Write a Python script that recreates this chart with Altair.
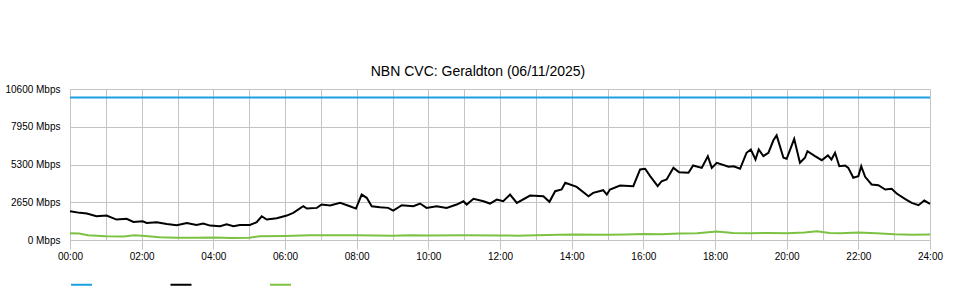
import altair as alt
import pandas as pd

# ---- data ----
series_names = ["Capacity", "Traffic", "Upload"]
series_colors = ["#1ba1e2", "#000000", "#7cc242"]

capacity_hours = [0, 24]
capacity_mbps = [10000, 10000]

traffic_hours = [0.00, 0.28, 0.47, 0.74, 1.02, 1.30, 1.58, 1.77, 2.03, 2.14, 2.42, 2.70, 2.98,
                 3.26, 3.53, 3.72, 3.91, 4.19, 4.37, 4.56, 4.74, 5.02, 5.21, 5.35, 5.49, 5.77,
                 6.05, 6.23, 6.51, 6.61, 6.89, 7.02, 7.26, 7.54, 7.81, 7.98, 8.14, 8.28, 8.42,
                 8.65, 8.88, 9.02, 9.26, 9.58, 9.77, 9.95, 10.23, 10.51, 10.79, 10.98, 11.07,
                 11.26, 11.54, 11.72, 11.91, 12.09, 12.28, 12.47, 12.84, 13.21, 13.38, 13.54,
                 13.72, 13.82, 14.14, 14.47, 14.60, 14.88, 14.98, 15.07, 15.35, 15.72, 15.91,
                 16.05, 16.19, 16.40, 16.51, 16.65, 16.84, 17.00, 17.26, 17.39, 17.63, 17.80,
                 17.91, 18.05, 18.38, 18.52, 18.70, 18.88, 19.00, 19.13, 19.22, 19.35, 19.49,
                 19.63, 19.72, 19.91, 20.00, 20.21, 20.37, 20.51, 20.58, 20.79, 20.98, 21.15,
                 21.25, 21.35, 21.47, 21.63, 21.72, 21.86, 22.00, 22.08, 22.19, 22.37, 22.56,
                 22.75, 22.93, 23.07, 23.30, 23.49, 23.68, 23.84, 24.00]
traffic_mbps = [2020, 1905, 1855, 1665, 1715, 1435, 1485, 1270, 1315, 1200, 1245, 1130, 1035,
                1200, 1060, 1150, 1010, 965, 1105, 965, 1060, 1060, 1245, 1665, 1435, 1525,
                1715, 1905, 2370, 2205, 2255, 2490, 2420, 2605, 2370, 2205, 3190, 2960, 2370,
                2300, 2255, 2065, 2440, 2370, 2560, 2255, 2370, 2255, 2490, 2720, 2490,
                2890, 2720, 2560, 2840, 2720, 3190, 2605, 3120, 3070, 2680, 3425,
                3545, 4015, 3730, 3070, 3310, 3495, 3190, 3545, 3825, 3775, 4950,
                5000, 4480, 3775, 4125, 4245, 5065, 4760, 4715, 5230, 5065, 5885,
                5065, 5420, 5140, 5180, 5000, 6120, 6355, 5650, 6355, 5885, 6120,
                7000, 7340, 5770, 5700, 7105, 5420, 5770, 6235, 5885, 5600, 5935,
                5650, 6120, 5180, 5230, 5065, 4365, 4480, 5180, 4435, 3895, 3845,
                3545, 3590, 3260, 2890, 2605, 2440, 2770, 2540]

upload_hours = [0, 0.25, 0.5, 1.0, 1.5, 1.8, 2.1, 2.5, 3.0, 3.5, 4.0, 4.5, 5.0, 5.3, 6.0, 6.7,
                7.0, 8.0, 8.5, 9.0, 9.5, 10.0, 11.0, 12.0, 12.5, 13.0, 14.0, 15.0, 15.5, 16.0,
                16.5, 17.0, 17.5, 18.05, 18.5, 19.0, 19.5, 20.0, 20.5, 20.84, 21.2, 21.5, 22.0,
                22.5, 23.0, 23.5, 24.0]
upload_mbps = [480, 450, 330, 260, 250, 330, 280, 200, 150, 150, 180, 140, 160, 260, 280, 330,
               330, 330, 320, 290, 330, 310, 330, 320, 300, 330, 380, 360, 380, 420,
               400, 460, 480, 600, 500, 480, 500, 480, 520, 610, 500, 480, 520,
               480, 400, 360, 380]

y_ticks = [0, 2650, 5300, 7950, 10600]
x_grid_hours = list(range(25))
title_text = "NBN CVC: Geraldton (06/11/2025)"

# ---- table ----
rows = []
for name, hours, vals in [("Capacity", capacity_hours, capacity_mbps),
                          ("Traffic", traffic_hours, traffic_mbps),
                          ("Upload", upload_hours, upload_mbps)]:
    for h, v in zip(hours, vals):
        rows.append({"hour": h, "mbps": v, "series": name})
df = pd.DataFrame(rows)

FONT = "Liberation Sans"
GRID = "#c4c4c4"

chart = alt.Chart(df).mark_line(strokeWidth=2).encode(
    x=alt.X(
        "hour:Q",
        title=None,
        scale=alt.Scale(domain=[0, 24], nice=False, zero=False),
        axis=alt.Axis(
            values=x_grid_hours,
            labelExpr="datum.value % 2 == 0 ? (datum.value < 10 ? '0' : '') + datum.value + ':00' : ''",
            tickOpacity={"condition": {"test": "datum.value % 2 == 0", "value": 1}, "value": 0},
            labelOverlap=False,
            labelFlush=False,
            tickSize=9,
            tickColor=GRID,
            domainColor=GRID,
            gridColor=GRID,
            labelPadding=2,
        ),
    ),
    y=alt.Y(
        "mbps:Q",
        title=None,
        scale=alt.Scale(domain=[0, 10600], nice=False),
        axis=alt.Axis(
            values=y_ticks,
            labelExpr="datum.value + ' Mbps'",
            ticks=False,
            domain=False,
            gridColor=GRID,
            labelPadding=10,
        ),
    ),
    color=alt.Color(
        "series:N",
        scale=alt.Scale(domain=series_names, range=series_colors),
        legend=alt.Legend(
            title=None,
            orient="none",
            legendX=0,
            legendY=184,
            direction="horizontal",
            symbolType="stroke",
            symbolSize=441,
            symbolStrokeWidth=2,
            labelExpr="''",
            labelOffset=0,
            columnPadding=70.5,
        ),
    ),
    order=alt.Order("hour:Q"),
).properties(
    width=860,
    height=151,
    title=alt.TitleParams(title_text, fontSize=14, font=FONT, fontWeight="normal",
                          color="#000000", anchor="middle", dx=-22, offset=5),
    autosize=alt.AutoSizeParams(type="none"),
    padding={"left": 70, "top": 89, "right": 30, "bottom": 60},
).configure_view(
    stroke=GRID,
).configure_axis(
    labelFont=FONT,
    labelFontSize=10.5,
    labelColor="#222222",
).configure(background="white")

chart.save("out.html", embed_options={"renderer": "svg", "actions": False})
